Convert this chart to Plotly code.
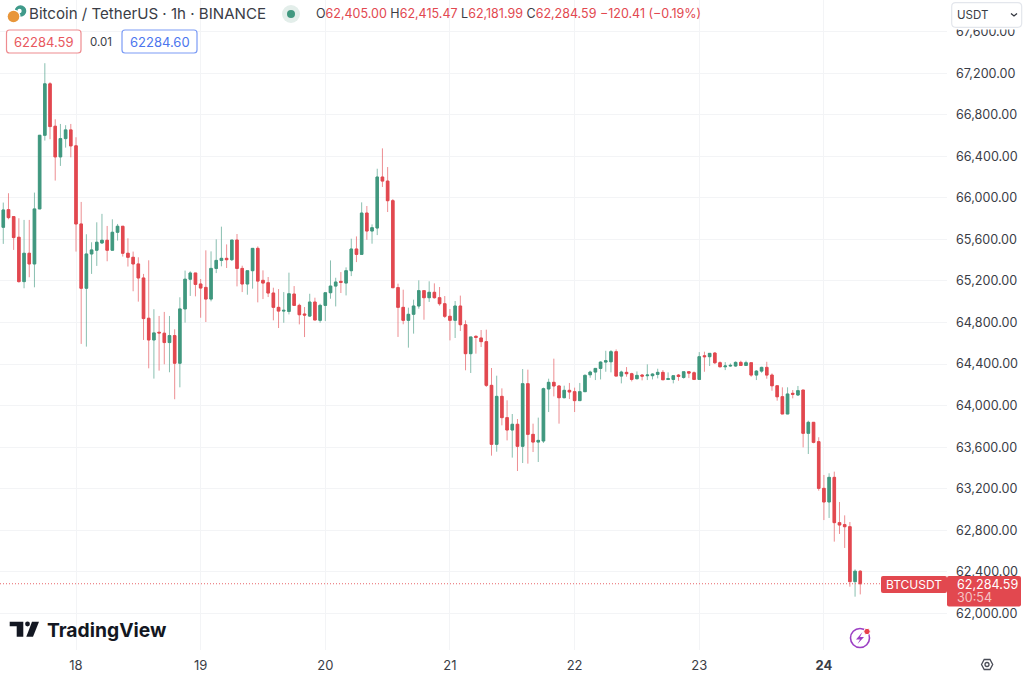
import pandas as pd
import plotly.graph_objects as go

W, H = 1024, 673
PLOT_W, PLOT_H = 947, 650

opens = [65717, 65887, 65820, 65621, 65194, 65467, 65364, 65894, 66603, 67098, 66690, 66395, 66571, 66655,
         66501, 65749, 65130, 65460, 65496, 65566, 65592, 65496, 65669, 65727, 65467, 65428, 65364, 65229, 64841, 64632, 64706, 64697, 64607, 64674, 64408, 64931, 65217, 65277,
         65171, 65138, 65026, 65321, 65398, 65418, 65405, 65594, 65321, 65171, 65299, 65514, 65206, 65183, 65084, 64946, 64910, 64907, 65074, 64965, 64882, 64862, 64997, 64821,
         64965, 65087, 65151, 65196, 65180, 65299, 65508, 65456, 65854, 65681, 65710, 66201, 66162, 65973, 65136, 64946, 64821, 64879, 64959, 65107, 65039, 65091, 65039, 64981,
         64860, 64821, 64959, 64779, 64500, 64667, 64651, 64616, 64195, 63627, 64089, 63884, 63765, 63820, 63608, 64211, 63723, 63649, 63659, 64160, 64224, 64189, 64076, 64147,
         64134, 64048, 64134, 64297, 64323, 64358, 64419, 64422, 64519, 64284, 64320, 64307, 64259, 64294, 64288, 64288, 64300, 64320, 64252, 64252, 64294, 64271, 64326, 64316,
         64252, 64480, 64471, 64506, 64413, 64374, 64381, 64381, 64416, 64387, 64413, 64294, 64332, 64368, 64294, 64191, 64086, 63919, 64118, 64102, 64150, 63733, 63839, 63653,
         63203, 63072, 63309, 62873, 62854, 62834, 62305, 62405.00]
closes = [65884, 65810, 65618, 65194, 65467, 65364, 65894, 66603, 67098, 66687, 66395, 66571, 66655, 66501,
          65749, 65130, 65460, 65499, 65573, 65592, 65496, 65669, 65727, 65467, 65428, 65364, 65229, 64838, 64632, 64700, 64700, 64607, 64674, 64408, 64931, 65217, 65277, 65167,
          65132, 65026, 65321, 65398, 65418, 65405, 65594, 65321, 65171, 65299, 65514, 65199, 65180, 65084, 64946, 64910, 64917, 65077, 64965, 64875, 64872, 64997, 64824, 64965,
          65087, 65151, 65190, 65187, 65299, 65508, 65456, 65854, 65681, 65713, 66201, 66162, 65973, 65135, 64946, 64821, 64879, 64959, 65107, 65039, 65091, 65039, 64981, 64860,
          64821, 64959, 64779, 64500, 64661, 64657, 64616, 64195, 63627, 64089, 63884, 63765, 63820, 63608, 64211, 63723, 63649, 63665, 64163, 64224, 64189, 64076, 64147, 64131,
          64048, 64134, 64291, 64323, 64358, 64419, 64432, 64519, 64284, 64323, 64307, 64252, 64291, 64284, 64294, 64304, 64320, 64249, 64259, 64288, 64281, 64326, 64313, 64252,
          64471, 64471, 64503, 64413, 64374, 64381, 64387, 64416, 64387, 64413, 64294, 64332, 64368, 64294, 64191, 64085, 63919, 64112, 64109, 64144, 63733, 63839, 63646, 63203,
          63072, 63309, 62873, 62850, 62834, 62305, 62405, 62284.59]
highs = [65955, 66045, 65825, 65804, 65788, 65788, 66051, 66603, 67297, 67114, 66757, 66712, 66700, 66712,
         66584, 65961, 65650, 65573, 65765, 65846, 65730, 65794, 65749, 65727, 65611, 65483, 65428, 65268, 65399, 64928, 64863, 64902, 64863, 64735, 65043, 65300, 65293, 65277,
         65219, 65495, 65485, 65601, 65723, 65552, 65594, 65652, 65347, 65299, 65514, 65533, 65302, 65238, 65135, 65122, 65093, 65280, 65151, 64981, 64949, 65077, 65039, 64981,
         65087, 65398, 65231, 65286, 65331, 65607, 65629, 65957, 65922, 65745, 66281, 66477, 66297, 65989, 65174, 65116, 64943, 65020, 65206, 65107, 65197, 65177, 65142, 65055,
         64930, 65007, 65059, 64821, 64661, 64677, 64728, 64731, 64362, 64288, 64166, 64051, 63919, 63871, 64352, 64346, 63826, 63884, 64173, 64259, 64452, 64198, 64192, 64218,
         64173, 64218, 64301, 64336, 64361, 64426, 64528, 64535, 64541, 64336, 64371, 64316, 64329, 64304, 64397, 64310, 64355, 64342, 64320, 64291, 64304, 64326, 64332, 64329,
         64515, 64519, 64503, 64515, 64426, 64419, 64406, 64426, 64432, 64432, 64413, 64342, 64374, 64422, 64310, 64191, 64176, 64176, 64150, 64189, 64150, 63855, 63839, 63695,
         63332, 63348, 63364, 63072, 62943, 62879, 62423, 62415.47]
lows = [65557, 65794, 65499, 65184, 65130, 65236, 65139, 65894, 66552, 66565, 66167, 66308, 66484, 66391,
        65483, 64594, 64568, 65268, 65345, 65557, 65390, 65493, 65589, 65435, 65339, 65101, 65001, 64632, 64359, 64260, 64337, 64398, 64321, 64061, 64176, 64799, 65056, 65052,
        64846, 64805, 65004, 65276, 65341, 65325, 65392, 65148, 65093, 65068, 65126, 64994, 65026, 65045, 64821, 64747, 64798, 64878, 64959, 64782, 64660, 64853, 64824, 64798,
        64814, 65029, 64955, 65084, 65061, 65247, 65382, 65456, 65597, 65559, 65642, 66105, 65864, 65135, 64661, 64783, 64558, 64693, 64933, 64827, 64998, 65030, 64962, 64844,
        64628, 64651, 64718, 64340, 64314, 64500, 64564, 64179, 63518, 63556, 63810, 63665, 63499, 63370, 63447, 63441, 63553, 63457, 63640, 63938, 64089, 63826, 64070, 64063,
        63938, 64044, 64134, 64268, 64246, 64252, 64326, 64320, 64284, 64214, 64278, 64233, 64252, 64243, 64246, 64252, 64262, 64246, 64246, 64214, 64239, 64259, 64265, 64246,
        64252, 64326, 64381, 64400, 64368, 64342, 64374, 64374, 64381, 64381, 64278, 64246, 64316, 64259, 64143, 64047, 63919, 63919, 64070, 64093, 63598, 63534, 63637, 63181,
        62898, 62918, 62690, 62764, 62629, 62256, 62160, 62181.99]

assert len(opens) == len(closes) == len(highs) == len(lows) == 166

times = pd.date_range("2024-06-17 10:00", periods=len(opens), freq="h")
day_ticks = ["2024-06-18", "2024-06-19", "2024-06-20", "2024-06-21", "2024-06-22", "2024-06-23", "2024-06-24"]
day_labels = ["18", "19", "20", "21", "22", "23", "<b>24</b>"]
price_ticks = [62000, 62400, 62800, 63200, 63600, 64000, 64400, 64800, 65200, 65600, 66000, 66400, 66800, 67200, 67600]
price_labels = [f"{p:,.2f}" for p in price_ticks]
last_price = closes[-1]

RED = "#e2484f"
GREEN = "#40987f"
RED_W = "rgba(226,72,79,0.62)"
GREEN_W = "rgba(64,152,127,0.62)"
GRID = "#f3f4f6"
TXT = "#3a3d46"
FONT = "Inter, Liberation Sans, sans-serif"


def X(p):
    return p / PLOT_W


def Y(p):
    return 1 - p / PLOT_H


def note(x, y, text, size=13, color=TXT, anchor="left", family=FONT):
    return dict(xref="paper", yref="paper", x=X(x), y=Y(y), text=text, showarrow=False,
                xanchor=anchor, yanchor="middle", font=dict(size=size, color=color, family=family),
                borderpad=0, bgcolor="rgba(0,0,0,0)")


def rrect(x0, y0, x1, y1, r, line=None, fill=None, lw=1.2):
    a, b, c, d = X(x0), Y(y0), X(x1), Y(y1)
    rx, ry = r / PLOT_W, r / PLOT_H
    path = (f"M{a+rx},{b} L{c-rx},{b} Q{c},{b} {c},{b-ry} L{c},{d+ry} Q{c},{d} {c-rx},{d} "
            f"L{a+rx},{d} Q{a},{d} {a},{d+ry} L{a},{b-ry} Q{a},{b} {a+rx},{b} Z")
    return dict(type="path", xref="paper", yref="paper", path=path,
                line=dict(color=line or "rgba(0,0,0,0)", width=lw if line else 0),
                fillcolor=fill or "rgba(0,0,0,0)")


def circle(cx, cy, r, fill=None, line=None, lw=1.5):
    return dict(type="circle", xref="paper", yref="paper", x0=X(cx - r), x1=X(cx + r), y0=Y(cy + r), y1=Y(cy - r),
                fillcolor=fill or "rgba(0,0,0,0)", line=dict(color=line or "rgba(0,0,0,0)", width=lw if line else 0))


def poly(points, fill=None, line=None, lw=1.5, close=True):
    d = "M" + " L".join(f"{X(a)},{Y(b)}" for a, b in points) + (" Z" if close else "")
    return dict(type="path", xref="paper", yref="paper", path=d,
                fillcolor=fill or "rgba(0,0,0,0)", line=dict(color=line or "rgba(0,0,0,0)", width=lw if line else 0))


fig = go.Figure()
fig.add_trace(go.Candlestick(
    x=times, open=opens, high=highs, low=lows, close=closes, whiskerwidth=0, hoverinfo="skip",
    increasing=dict(line=dict(color=GREEN_W, width=1), fillcolor=GREEN_W),
    decreasing=dict(line=dict(color=RED_W, width=1), fillcolor=RED_W)))
fig.add_trace(go.Candlestick(
    x=times, open=opens, close=closes,
    high=[max(o, c) for o, c in zip(opens, closes)],
    low=[min(o, c) for o, c in zip(opens, closes)],
    whiskerwidth=0, hoverinfo="skip",
    increasing=dict(line=dict(color=GREEN, width=0.8), fillcolor=GREEN),
    decreasing=dict(line=dict(color=RED, width=0.8), fillcolor=RED)))

shapes = [
    dict(type="line", xref="paper", yref="y", x0=0, x1=X(881), y0=last_price, y1=last_price,
         line=dict(color="#e8666b", width=1, dash="1px,2px")),
    # last price tags
    rrect(881, 576, 947, 593, 2, fill=RED),
    rrect(947, 576, 1021, 606.5, 2, fill=RED),
    # symbol logo
    circle(20.5, 11, 5.8, fill="#3f9a8a"),
    circle(19.5, 11, 2.2, fill="white"),
    circle(13.5, 16.5, 7, fill="white"),
    circle(13.5, 16.5, 5.8, fill="#e8963a"),
    # status dot
    circle(291, 14, 9, fill="#e3eeea"),
    circle(291, 14, 4, fill=GREEN),
    # quote boxes
    rrect(6.5, 30, 81, 53, 3, line="#ee8c90", fill="white"),
    rrect(122, 30, 197, 53, 3, line="#7c9cf5", fill="white"),
    # currency box, masking the top of the highest price label
    dict(type="rect", xref="paper", yref="paper", x0=X(948), x1=X(1024), y0=Y(29.5), y1=Y(0),
         fillcolor="white", line=dict(width=0)),
    rrect(951.7, 2.7, 1021.7, 27.3, 4, line="#e3e6ec", fill="white"),
    poly([(1011, 13.5), (1014, 16), (1017, 13.5)], line="#33363f", lw=1.3, close=False),
    # TradingView mark
    poly([(9.7, 621.7), (23.3, 621.7), (23.3, 636.7), (16.7, 636.7), (16.7, 626.3), (9.7, 626.3)], fill="#131722"),
    circle(27.5, 624, 2.4, fill="#131722"),
    poly([(32, 621.7), (39, 621.7), (33, 636.7), (26.3, 636.7)], fill="#131722"),
    # bolt badge
    circle(860, 638, 9.5, line="#9c3fc4", lw=1.6),
    poly([(862.5, 632), (856, 639.5), (860, 639.5), (857.5, 644), (864, 637), (860, 637)], fill="#9c3fc4"),
    circle(867, 631.5, 3.2, fill="#e8404a", line="white", lw=1),
    # settings hexagon
    poly([(981.5, 664.5), (984.2, 659.5), (990, 659.5), (992.7, 664.5), (990, 669.5), (984.2, 669.5)], line="#4a4d57", lw=1.3),
    circle(987, 664.5, 2, line="#4a4d57", lw=1.3),
]

annotations = [
    note(28, 14, "Bitcoin / TetherUS · 1h · BINANCE", size=15.1, color=TXT),
    note(315, 14,
         f"O<span style='color:{RED}'>62,405.00</span> H<span style='color:{RED}'>62,415.47</span> "
         f"L<span style='color:{RED}'>62,181.99</span> C<span style='color:{RED}'>62,284.59</span> "
         f"<span style='color:{RED}'>−120.41 (−0.19%)</span>", size=12.5),
    note(43.7, 41.5, "62284.59", size=13, color="#e8585e", anchor="center"),
    note(101, 41.5, "0.01", size=11.5, anchor="center"),
    note(159.5, 41.5, "62284.60", size=13, color="#4c76ee", anchor="center"),
    note(956, 15, "USDT", size=11.5, color=TXT),
    note(914, 584.5, "BTCUSDT", size=12, color="white", anchor="center"),
    note(956, 584, "62,284.59", size=12.6, color="white"),
    note(956, 597.5, "30:54", size=12.6, color="#f5c3c5"),
    note(46, 630, "<b>TradingView</b>", size=19.3, color="#131722"),
]

fig.update_layout(
    width=W, height=H, margin=dict(l=0, r=W - PLOT_W, t=0, b=H - PLOT_H, pad=0),
    paper_bgcolor="white", plot_bgcolor="white", showlegend=False,
    font=dict(family=FONT, color=TXT, size=13), shapes=shapes, annotations=annotations,
    xaxis=dict(range=["2024-06-17 09:22:05", "2024-06-24 23:42:00"], rangeslider=dict(visible=False),
               tickmode="array", tickvals=day_ticks, ticktext=day_labels, ticks="", showline=False,
               gridcolor=GRID, gridwidth=1, zeroline=False, tickfont=dict(size=13, color=TXT),
               ticklabelstandoff=6),
    yaxis=dict(side="right", range=[61646.6, 67905.6], tickmode="array", tickvals=price_ticks,
               ticktext=price_labels, ticks="", showline=False, gridcolor=GRID, gridwidth=1, zeroline=False,
               tickfont=dict(size=12.6, color=TXT), ticklabelstandoff=8),
)

fig.write_html("out.html", config=dict(displayModeBar=False),
               post_script="document.body.style.margin='0';document.body.style.overflow='hidden';")
